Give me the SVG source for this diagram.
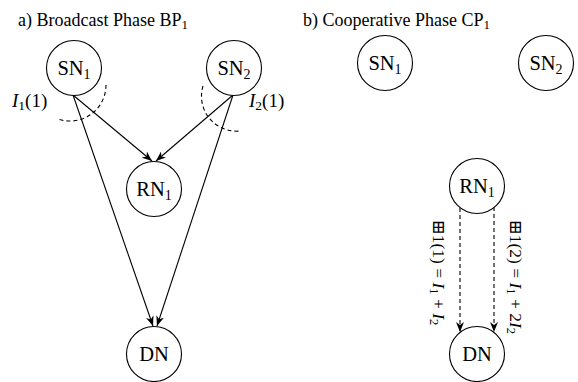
<svg xmlns="http://www.w3.org/2000/svg" width="578" height="382" viewBox="0 0 578 382">
<style>
.n{fill:#fff;stroke:#000;stroke-width:1.1}
text{font-family:'Liberation Serif','DejaVu Serif',serif;fill:#000}
.lbl{font-size:20.5px}
.ttl{font-size:18px}
.e{fill:none;stroke:#000;stroke-width:1.1}
.d{fill:none;stroke:#000;stroke-width:1.1;stroke-dasharray:4 3}
.i{font-style:italic}
</style>
<defs>
<marker id="ah" markerWidth="11" markerHeight="8" refX="10" refY="4" orient="auto" markerUnits="userSpaceOnUse">
<path d="M0,0 L10,4 L0,8 L3,4 z" fill="#000"/>
</marker>
</defs>
<rect width="578" height="382" fill="#fff"/>

<text class="ttl" x="18" y="26">a) Broadcast Phase BP<tspan font-size="13" dy="3">1</tspan></text>
<text class="ttl" x="303" y="26">b) Cooperative Phase CP<tspan font-size="13" dy="3">1</tspan></text>

<g id="connectors">
<line class="e" x1="73" y1="95" x2="152" y2="161" marker-end="url(#ah)"/>
<line class="e" x1="73" y1="95" x2="153" y2="326" marker-end="url(#ah)"/>
<line class="e" x1="233" y1="95" x2="156" y2="161" marker-end="url(#ah)"/>
<line class="e" x1="233" y1="95" x2="157" y2="326" marker-end="url(#ah)"/>
<path class="d" d="M106,85 A36,36 0 0 1 58,119"/>
<path class="d" d="M203,86 A35,35 0 0 0 240,131"/>
<line class="d" x1="460" y1="208" x2="460" y2="332" marker-end="url(#ah)"/>
<line class="d" x1="494" y1="207" x2="494" y2="332" marker-end="url(#ah)"/>
</g>

<text font-size="19" x="12" y="107"><tspan class="i">I</tspan><tspan font-size="13.5" dy="3">1</tspan><tspan dy="-3">(1)</tspan></text>
<text font-size="19" x="249" y="107"><tspan class="i">I</tspan><tspan font-size="13.5" dy="3">2</tspan><tspan dy="-3">(1)</tspan></text>

<text font-size="17.5" transform="translate(433,220) rotate(90)">⊞1(1) = <tspan class="i">I</tspan><tspan font-size="12.5" dy="3">1</tspan><tspan dy="-3"> + </tspan><tspan class="i">I</tspan><tspan font-size="12.5" dy="3">2</tspan></text>
<text font-size="17.5" transform="translate(510,220) rotate(90)">⊞1(2) = <tspan class="i">I</tspan><tspan font-size="12.5" dy="3">1</tspan><tspan dy="-3"> + 2</tspan><tspan class="i">I</tspan><tspan font-size="12.5" dy="3">2</tspan></text>

<g id="a-SN1"><circle class="n" cx="74" cy="68" r="27.5"/><text class="lbl" x="74" y="75" text-anchor="middle">SN<tspan font-size="14" dy="4">1</tspan></text></g>
<g id="a-SN2"><circle class="n" cx="234" cy="68" r="27.5"/><text class="lbl" x="234" y="75" text-anchor="middle">SN<tspan font-size="14" dy="4">2</tspan></text></g>
<g id="a-RN1"><circle class="n" cx="154" cy="189" r="27.5"/><text class="lbl" x="154" y="196" text-anchor="middle">RN<tspan font-size="14" dy="4">1</tspan></text></g>
<g id="a-DN"><circle class="n" cx="154" cy="354" r="27.5"/><text class="lbl" x="154" y="361" text-anchor="middle">DN</text></g>

<g id="b-SN1"><circle class="n" cx="385" cy="63" r="27.5"/><text class="lbl" x="385" y="70" text-anchor="middle">SN<tspan font-size="14" dy="4">1</tspan></text></g>
<g id="b-SN2"><circle class="n" cx="546" cy="63" r="27.5"/><text class="lbl" x="546" y="70" text-anchor="middle">SN<tspan font-size="14" dy="4">2</tspan></text></g>
<g id="b-RN1"><circle class="n" cx="477" cy="186" r="27.5"/><text class="lbl" x="477" y="193" text-anchor="middle">RN<tspan font-size="14" dy="4">1</tspan></text></g>
<g id="b-DN"><circle class="n" cx="477" cy="354" r="27.5"/><text class="lbl" x="477" y="361" text-anchor="middle">DN</text></g>
</svg>
